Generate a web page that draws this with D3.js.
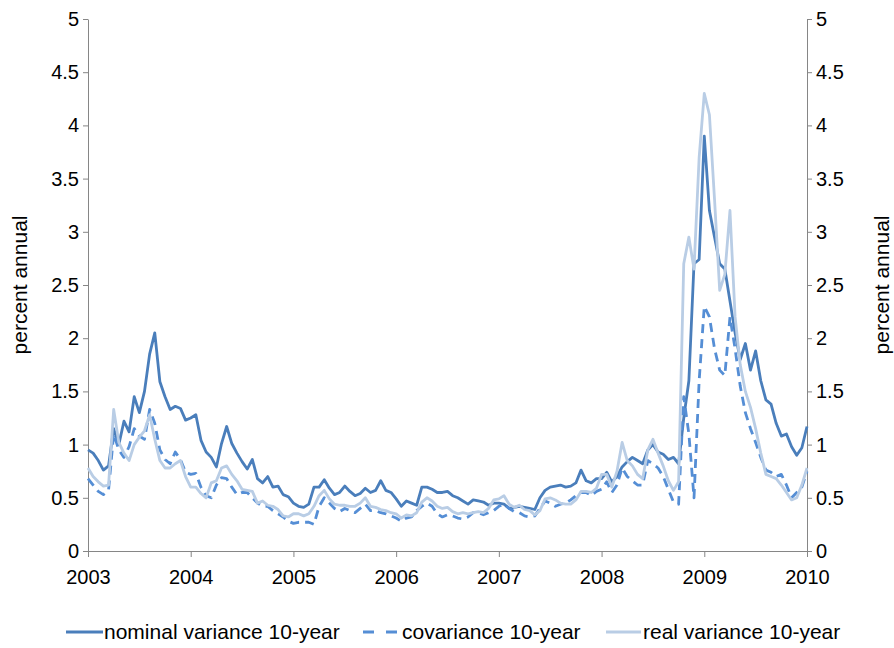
<!DOCTYPE html>
<html>
<head>
<meta charset="utf-8">
<script src="https://cdn.jsdelivr.net/npm/d3@7"></script>
<style>
  body { margin: 0; background: #fff; }
  svg { font-family: "Liberation Sans", Arial, sans-serif; }
</style>
</head>
<body>
<div id="chart"></div>
<script>
// sampling: one value every 0.05 year, from 2003 to 2010
const startYear = 2003;
const step = 0.05;

const nominal = [
  0.95, 0.92, 0.85, 0.76, 0.80, 1.15, 1.00, 1.22, 1.12, 1.45,
  1.30, 1.50, 1.85, 2.05, 1.59, 1.45, 1.33, 1.36, 1.34, 1.23,
  1.25, 1.28, 1.04, 0.93, 0.88, 0.79, 1.01, 1.17, 1.01, 0.92,
  0.84, 0.77, 0.86, 0.68, 0.64, 0.70, 0.60, 0.61, 0.53, 0.51,
  0.45, 0.42, 0.41, 0.44, 0.60, 0.60, 0.67, 0.59, 0.53, 0.55,
  0.61, 0.56, 0.52, 0.54, 0.59, 0.55, 0.57, 0.66, 0.57, 0.55,
  0.49, 0.42, 0.47, 0.45, 0.43, 0.60, 0.60, 0.58, 0.55, 0.55,
  0.56, 0.52, 0.50, 0.47, 0.44, 0.48, 0.47, 0.46, 0.43, 0.45,
  0.45, 0.44, 0.40, 0.41, 0.42, 0.41, 0.40, 0.39, 0.50, 0.57,
  0.60, 0.61, 0.62, 0.60, 0.61, 0.64, 0.76, 0.66, 0.64, 0.68,
  0.68, 0.74, 0.65, 0.70, 0.79, 0.84, 0.88, 0.85, 0.82, 0.95,
  1.00, 0.93, 0.91, 0.86, 0.88, 0.82, 1.25, 1.60, 2.70, 2.74,
  3.90, 3.20, 2.95, 2.70, 2.65, 2.35, 2.05, 1.80, 1.95, 1.70,
  1.88, 1.60, 1.42, 1.38, 1.20, 1.08, 1.10, 0.98, 0.90, 0.97,
  1.17
];

const covariance = [
  0.68, 0.62, 0.56, 0.53, 0.57, 1.10, 0.95, 0.88, 0.98, 1.15,
  1.08, 1.05, 1.33, 1.20, 0.95, 0.86, 0.82, 0.93, 0.86, 0.74,
  0.72, 0.73, 0.60, 0.52, 0.50, 0.62, 0.69, 0.68, 0.60, 0.53,
  0.55, 0.55, 0.50, 0.45, 0.42, 0.42, 0.38, 0.35, 0.32, 0.28,
  0.26, 0.27, 0.27, 0.27, 0.25, 0.42, 0.50, 0.45, 0.40, 0.37,
  0.40, 0.38, 0.36, 0.40, 0.44, 0.38, 0.38, 0.36, 0.35, 0.33,
  0.31, 0.28, 0.31, 0.32, 0.38, 0.42, 0.45, 0.42, 0.35, 0.32,
  0.34, 0.33, 0.31, 0.30, 0.32, 0.36, 0.36, 0.34, 0.36, 0.38,
  0.42, 0.44, 0.40, 0.37, 0.36, 0.33, 0.32, 0.33, 0.40, 0.47,
  0.45, 0.42, 0.44, 0.45, 0.48, 0.52, 0.55, 0.55, 0.52, 0.56,
  0.58, 0.65, 0.55, 0.62, 0.78, 0.70, 0.66, 0.62, 0.62, 0.85,
  0.82, 0.78, 0.70, 0.58, 0.46, 0.44, 1.45, 1.10, 0.50, 1.60,
  2.30, 2.20, 1.90, 1.70, 1.65, 2.20, 1.90, 1.55, 1.30, 1.15,
  1.02, 0.88, 0.76, 0.74, 0.70, 0.72, 0.62, 0.50, 0.55, 0.60,
  0.75
];

const real = [
  0.78, 0.70, 0.65, 0.61, 0.62, 1.33, 1.02, 0.92, 0.85, 1.00,
  1.07, 1.13, 1.28, 1.05, 0.85, 0.78, 0.78, 0.82, 0.85, 0.70,
  0.60, 0.60, 0.54, 0.50, 0.64, 0.66, 0.78, 0.80, 0.72, 0.66,
  0.58, 0.57, 0.56, 0.45, 0.47, 0.43, 0.42, 0.39, 0.33, 0.32,
  0.35, 0.35, 0.33, 0.35, 0.42, 0.52, 0.57, 0.49, 0.44, 0.43,
  0.43, 0.42, 0.42, 0.45, 0.50, 0.42, 0.41, 0.39, 0.38, 0.36,
  0.35, 0.31, 0.34, 0.33, 0.36, 0.46, 0.50, 0.47, 0.42, 0.40,
  0.41, 0.37, 0.35, 0.36, 0.35, 0.36, 0.37, 0.36, 0.40, 0.48,
  0.49, 0.52, 0.44, 0.41, 0.43, 0.39, 0.38, 0.34, 0.38, 0.49,
  0.50, 0.48, 0.45, 0.44, 0.44, 0.48, 0.56, 0.56, 0.55, 0.59,
  0.72, 0.72, 0.60, 0.75, 1.02, 0.85, 0.80, 0.72, 0.68, 0.95,
  1.05, 0.92, 0.80, 0.66, 0.57, 0.65, 2.70, 2.95, 2.65, 3.70,
  4.30, 4.10, 3.30, 2.45, 2.60, 3.20, 2.20, 1.75, 1.50, 1.35,
  1.15, 0.92, 0.72, 0.70, 0.68, 0.62, 0.55, 0.48, 0.50, 0.62,
  0.78
];

const yearTicks = [2003, 2004, 2005, 2006, 2007, 2008, 2009, 2010];
const valueTicks = [0, 0.5, 1, 1.5, 2, 2.5, 3, 3.5, 4, 4.5, 5];

const series = [
  { name: "nominal variance 10-year", values: nominal, color: "#4a7ebb", dash: null },
  { name: "covariance 10-year", values: covariance, color: "#558ed5", dash: "9,6" },
  { name: "real variance 10-year", values: real, color: "#b9cde5", dash: null }
];

const width = 894, height = 648;
const margin = { top: 19, right: 87, bottom: 97, left: 88 };

const svg = d3.select("#chart").append("svg")
  .attr("width", width)
  .attr("height", height);

const x = d3.scaleLinear()
  .domain([2003, 2010])
  .range([margin.left, width - margin.right]);

const y = d3.scaleLinear()
  .domain([0, 5])
  .range([height - margin.bottom, margin.top]);

const axisColor = "#868686";

function styleAxis(g) {
  g.select(".domain").attr("stroke", axisColor);
  g.selectAll(".tick line").attr("stroke", axisColor);
  g.selectAll(".tick text").attr("fill", "#000").style("font-size", "20px");
}

// left axis
svg.append("g")
  .attr("transform", `translate(${margin.left},0)`)
  .call(d3.axisLeft(y).tickValues(valueTicks).tickFormat(d3.format("")).tickSize(5).tickPadding(4).tickSizeOuter(0))
  .call(styleAxis);

// right axis
svg.append("g")
  .attr("transform", `translate(${width - margin.right},0)`)
  .call(d3.axisRight(y).tickValues(valueTicks).tickFormat(d3.format("")).tickSize(5).tickPadding(4).tickSizeOuter(0))
  .call(styleAxis);

// bottom axis
svg.append("g")
  .attr("transform", `translate(0,${height - margin.bottom})`)
  .call(d3.axisBottom(x).tickValues(yearTicks).tickFormat(d3.format("d")).tickSize(6).tickPadding(13).tickSizeOuter(0))
  .call(styleAxis);

// axis titles
const midY = (margin.top + height - margin.bottom) / 2;
svg.append("text")
  .attr("transform", `translate(27,${midY}) rotate(-90)`)
  .attr("text-anchor", "middle")
  .style("font-size", "21px")
  .text("percent annual");

svg.append("text")
  .attr("transform", `translate(889,${midY}) rotate(-90)`)
  .attr("text-anchor", "middle")
  .style("font-size", "21px")
  .text("percent annual");

const line = d3.line()
  .x((d, i) => x(startYear + i * step))
  .y(d => y(d));

svg.append("g")
  .selectAll("path")
  .data(series)
  .join("path")
  .attr("d", d => line(d.values))
  .attr("fill", "none")
  .attr("stroke", d => d.color)
  .attr("stroke-width", 2.8)
  .attr("stroke-linejoin", "round")
  .attr("stroke-dasharray", d => d.dash);

// legend
const legendY = 632;
const legendItems = [
  { x0: 66, x1: 103, tx: 104 },
  { x0: 363, x1: 398, tx: 402 },
  { x0: 606, x1: 641, tx: 643 }
];

const legend = svg.append("g");
series.forEach((s, i) => {
  const it = legendItems[i];
  legend.append("line")
    .attr("x1", it.x0).attr("x2", it.x1)
    .attr("y1", legendY).attr("y2", legendY)
    .attr("stroke", s.color)
    .attr("stroke-width", 3)
    .attr("stroke-dasharray", s.dash ? "11,12" : null);
  legend.append("text")
    .attr("x", it.tx)
    .attr("y", legendY)
    .attr("dy", "0.35em")
    .style("font-size", "21px")
    .text(s.name);
});
</script>
</body>
</html>
